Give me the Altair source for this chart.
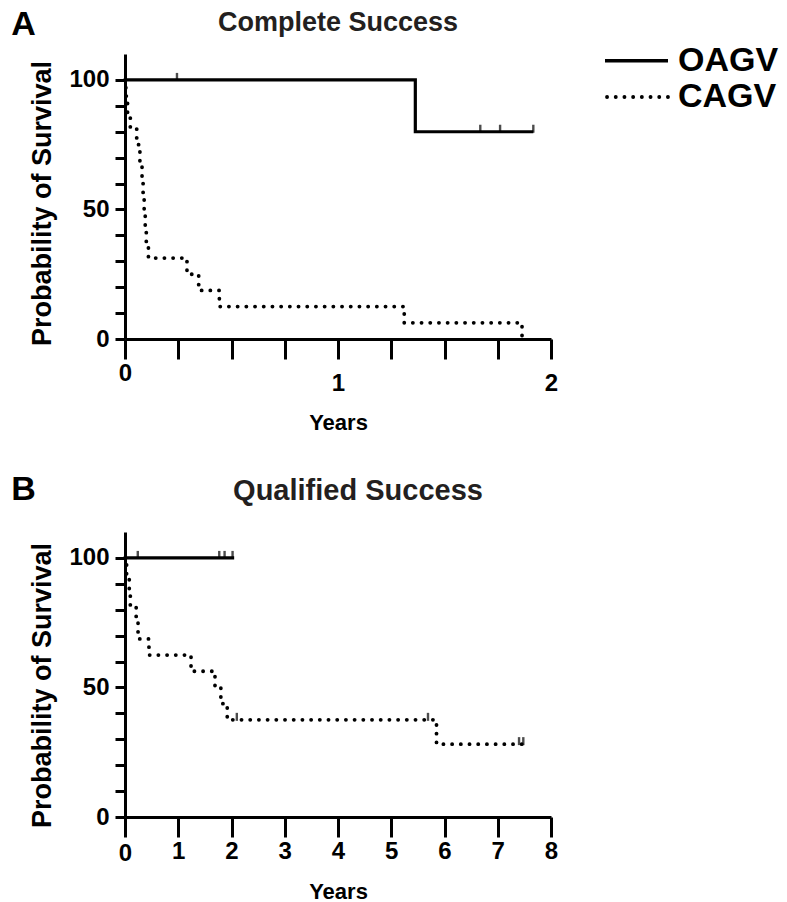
import altair as alt
import pandas as pd

FONT = "Liberation Sans"

# ---------------- data ----------------
series = ["OAGV", "CAGV"]

# Panel A - Complete Success
a_oagv_t = [0.0, 1.363, 1.917]
a_oagv_s = [100.0, 80.0, 80.0]
a_oagv_cens_t = [0.244, 1.668, 1.761, 1.917]
a_oagv_cens_s = [100.0, 80.0, 80.0, 80.0]

a_cagv_t = [0.0, 0.004, 0.012, 0.025, 0.055, 0.07, 0.08, 0.085, 0.09,
            0.095, 0.10, 0.11, 0.291, 0.346, 0.443, 1.311, 1.864]
a_cagv_s = [100.0, 93.75, 87.5, 81.25, 75.0, 68.75, 62.5, 56.25, 50.0,
            43.75, 37.5, 31.25, 25.0, 18.75, 12.5, 6.25, 0.0]

# Panel B - Qualified Success
b_oagv_t = [0.0, 2.05]
b_oagv_s = [100.0, 100.0]
b_oagv_cens_t = [0.24, 1.77, 1.87, 2.02]
b_oagv_cens_s = [100.0, 100.0, 100.0, 100.0]

b_cagv_t = [0.0, 0.03, 0.08, 0.10, 0.21, 0.245, 0.45, 1.24, 1.69, 1.80,
            1.92, 5.85, 7.50]
b_cagv_s = [100.0, 93.75, 87.5, 81.25, 75.0, 68.75, 62.5, 56.25, 50.0,
            43.75, 37.5, 28.125, 28.125]
b_cagv_cens_t = [2.10, 5.69, 7.40, 7.48]
b_cagv_cens_s = [37.5, 37.5, 28.125, 28.125]

a_xticks = [0, 0.25, 0.5, 0.75, 1.0, 1.25, 1.5, 1.75, 2.0]
b_xticks = [0, 1, 2, 3, 4, 5, 6, 7, 8]
y_ticks = [0, 10, 20, 30, 40, 50, 60, 70, 80, 90, 100]

W, H = 426, 285


def df(t, s):
    return pd.DataFrame({"t": t, "s": s})


def pad_cond(zero_pad, other_pad):
    return {"condition": {"test": "datum.value === 0", "value": zero_pad},
            "value": other_pad}


def panel(oagv, cagv, cens, xmax, xvals, label_pad, title, title_font,
          title_x, title_y, letter, letter_y, years_y, ytitle_y):
    x = alt.X(
        "t:Q",
        scale=alt.Scale(domain=[0, xmax], nice=False),
        axis=alt.Axis(
            values=xvals,
            labelExpr="datum.value % 1 === 0 ? format(datum.value, 'd') : ''",
            labelPadding=label_pad,
            tickSize=20,
            labelFlush=False,
            labelOverlap=False,
            title="Years",
            titleY=years_y,
            titleBaseline="alphabetic",
        ),
    )
    y = alt.Y(
        "s:Q",
        scale=alt.Scale(domain=[0, 110], nice=False),
        axis=alt.Axis(
            values=y_ticks,
            tickCount=11,
            tickOpacity={"condition": {"test": "datum.value > 100", "value": 0},
                         "value": 1},
            labelExpr="datum.value % 50 === 0 && datum.value <= 100 ? format(datum.value, 'd') : ''",
            tickSize=10,
            labelPadding=6,
            labelFlush=False,
            labelOverlap=False,
            title="Probability of Survival",
            titleY=ytitle_y,
            titlePadding=12,
        ),
    )
    dotted = alt.Chart(cagv).mark_line(
        interpolate="step-after", color="black", strokeWidth=3.8,
        strokeDash=[0.1, 8.6], strokeCap="round"
    ).encode(x=x, y=y)
    solid = alt.Chart(oagv).mark_line(
        interpolate="step-after", color="black", strokeWidth=3.2
    ).encode(x="t:Q", y="s:Q")
    ticks = alt.Chart(cens).mark_tick(
        orient="vertical", size=8, thickness=2.4, color="black", yOffset=-3
    ).encode(x="t:Q", y="s:Q")
    let = alt.Chart(pd.DataFrame({"label": [letter]})).mark_text(
        align="left", baseline="alphabetic", font=FONT, fontSize=34,
        fontWeight="bold", color="black"
    ).encode(text="label:N", x=alt.value(-113.7), y=alt.value(letter_y))
    ttl = alt.Chart(pd.DataFrame({"label": [title]})).mark_text(
        align="center", baseline="alphabetic", font=FONT, fontSize=title_font,
        fontWeight="bold", color="#231f20"
    ).encode(text="label:N", x=alt.value(title_x), y=alt.value(title_y))
    return alt.layer(dotted, solid, ticks, let, ttl).properties(width=W, height=H)


cens_a = df(a_oagv_cens_t, a_oagv_cens_s)
cens_b = pd.concat([df(b_oagv_cens_t, b_oagv_cens_s),
                    df(b_cagv_cens_t, b_cagv_cens_s)])

panel_a = panel(df(a_oagv_t, a_oagv_s), df(a_cagv_t, a_cagv_s), cens_a, 2,
                a_xticks, pad_cond(2.5, 12.5),
                "Complete Success", 27, 213, -23, "A", -19, 90, 149)
panel_b = panel(df(b_oagv_t, b_oagv_s), df(b_cagv_t, b_cagv_s), cens_b, 8,
                b_xticks, pad_cond(4.5, 2.5),
                "Qualified Success", 29, 233, -32, "B", -32, 81, 153)

# ---------------- legend ----------------
leg_df = pd.DataFrame({"series": series})
ly = alt.Y("series:N", sort=series,
           scale=alt.Scale(type="point", domain=series, range=[6.7, 43], padding=0),
           axis=None)
leg_solid = alt.Chart(leg_df).transform_filter("datum.series === 'OAGV'").mark_rule(
    color="black", strokeWidth=3.4
).encode(y=ly, x=alt.value(0), x2=alt.value(63))
leg_dot = alt.Chart(leg_df).transform_filter("datum.series === 'CAGV'").mark_rule(
    color="black", strokeWidth=3.8, strokeDash=[0.1, 8.6], strokeCap="round"
).encode(y=ly, x=alt.value(2), x2=alt.value(63))
leg_text = alt.Chart(leg_df).mark_text(
    align="left", baseline="middle", font=FONT, fontSize=34,
    fontWeight="bold", color="black"
).encode(y=ly, x=alt.value(73), text="series:N")
legend = alt.layer(leg_solid, leg_dot, leg_text).properties(width=100, height=50)

left = alt.vconcat(panel_a, panel_b, spacing=40)
chart = alt.hconcat(left, legend, spacing=45).properties(
    padding={"left": 3, "top": 0, "right": 0, "bottom": 0}
).configure_view(stroke=None).configure_axis(
    domainColor="black", domainWidth=3, tickColor="black", tickWidth=3,
    labelFont=FONT, labelFontSize=24, labelFontWeight="bold", labelColor="black",
    titleFont=FONT, titleFontWeight="bold", titleColor="black", grid=False,
).configure_axisX(titleFontSize=22).configure_axisY(titleFontSize=27)

chart.save("out.html", embed_options={"renderer": "svg", "actions": False})
